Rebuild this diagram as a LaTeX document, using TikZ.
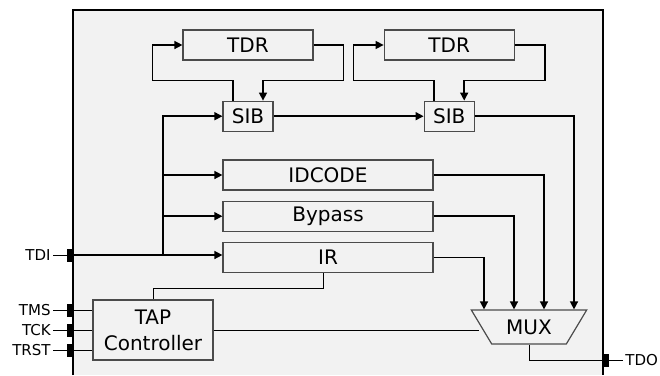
\documentclass[tikz,border=0pt]{standalone}
\usepackage{fontspec}
\setmainfont{DejaVu Sans}
\usepackage{tikz}
\usetikzlibrary{shapes.geometric, arrows.meta, positioning, calc}
\definecolor{chipbg}{RGB}{242,242,242}
\definecolor{boxline}{RGB}{75,75,75}

\begin{document}
\begin{tikzpicture}[
	x=1pt, y=-1pt,
	box/.style = {rectangle, draw=boxline, line width=1.2pt, text centered, inner sep=0pt, minimum height=30pt, font=\fontsize{20}{26}\selectfont, align=center},
	mux/.style = {trapezium, draw=boxline, line width=1.2pt, trapezium stretches=true, trapezium left angle=50, trapezium right angle=50, shape border rotate=180, minimum width=116pt, minimum height=34pt, inner sep=0pt, font=\fontsize{20}{26}\selectfont},
	pinbox/.style = {rectangle, fill=black, inner sep=0pt, minimum width=6pt, minimum height=13pt},
	pinlabel/.style = {inner sep=2pt, font=\fontsize{15}{18}\selectfont},
	line/.style = {draw, line width=1.5pt, -{Triangle[length=8pt,width=8pt]}},
	wire/.style = {draw, line width=1pt}
	]
	\useasboundingbox (0,0) rectangle (660,375);
	
	% Chip outline
	\fill [chipbg] (73,10) rectangle (603,375);
	\draw [line width=2pt] (73,375) |- (603,10) -- (603,375);
	
	% Nodes
	\node [box, minimum width=130pt] (tdra) at (248,45) {TDR};
	\node [box, minimum width=50pt, below=40pt of tdra] (siba) {SIB};
	\node [box, minimum width=130pt, right=70pt of tdra] (tdrb) {TDR};
	\node [box, minimum width=50pt, below=40pt of tdrb] (sibb) {SIB};
	
	\node [box, minimum width=210pt] (idcode) at (328,175) {IDCODE};
	\node [box, minimum width=210pt, below=10pt of idcode] (bypass) {Bypass};
	\node [box, minimum width=210pt, below=10pt of bypass] (ir) {IR};
	
	\node [box, minimum width=120pt, minimum height=60pt] (tap) at (153,330) {TAP\\Controller};
	\node [mux] (muxer) at (529,327) {MUX};
	
	% Pins
	\node [pinbox] (tdipin) at (70,255) {};
	\node [pinbox] (tmspin) at (70,310) {};
	\node [pinbox] (tckpin) at (70,330) {};
	\node [pinbox] (trstpin) at (70,350) {};
	\node [pinbox] (tdopin) at (606,360) {};
	
	\node [pinlabel, left=14pt of tdipin] (tdilbl) {TDI};
	\node [pinlabel, left=14pt of tmspin] (tmslbl) {TMS};
	\node [pinlabel, left=14pt of tckpin] (tcklbl) {TCK};
	\node [pinlabel, left=14pt of trstpin] (trstlbl) {TRST};
	\node [pinlabel, right=14pt of tdopin] (tdolbl) {TDO};
	
	\coordinate (bus) at ([xshift=93pt]tdipin.center);
	
	% Lines
	\path [wire] (tdipin.west) -- (tdilbl.east);
	\path [wire] (tmspin.west) -- (tmslbl.east);
	\path [wire] (tckpin.west) -- (tcklbl.east);
	\path [wire] (trstpin.west) -- (trstlbl.east);
	\path [wire] (tdopin.east) -- (tdolbl.west);
	
	\path [line] (tdipin.center) -- (tdipin.center -| ir.west);
	\path [line] (bus) |- (siba.west);
	\path [line] (bus |- idcode) -- (idcode.west);
	\path [line] (bus |- bypass) -- (bypass.west);
	
	\path [line] ([xshift=-15pt]siba.north) |- ([xshift=-30pt,yshift=-20pt]tdra.south west) |- (tdra.west);
	\path [line] (tdra.east) -| ([xshift=30pt,yshift=-20pt]tdra.south east) -| ([xshift=15pt]siba.north);
	\path [line] ([xshift=-15pt]sibb.north) |- ([xshift=-30pt,yshift=-20pt]tdrb.south west) |- (tdrb.west);
	\path [line] (tdrb.east) -| ([xshift=30pt,yshift=-20pt]tdrb.south east) -| ([xshift=15pt]sibb.north);
	\path [line] (siba) -- (sibb);
	
	\path [line] (ir.east) -| ([xshift=-45pt]muxer.north);
	\path [line] (bypass.east) -| ([xshift=-15pt]muxer.north);
	\path [line] (idcode.east) -| ([xshift=15pt]muxer.north);
	\path [line] (sibb.east) -| ([xshift=45pt]muxer.north);
	
	\path [wire] ([xshift=-5pt]ir.south) |- ([yshift=11pt]tap.north) -- (tap.north);
	\path [wire] (tmspin.center) -- (tap.west |- tmspin);
	\path [wire] (tckpin.center) -- (tap.west |- tckpin);
	\path [wire] (trstpin.center) -- (tap.west |- trstpin);
	\path [wire] (tap.east) -- ([xshift=-2pt]tap.east -| muxer.west);
	\path [wire] (muxer.south) |- (tdopin.center);
\end{tikzpicture}
\end{document}
